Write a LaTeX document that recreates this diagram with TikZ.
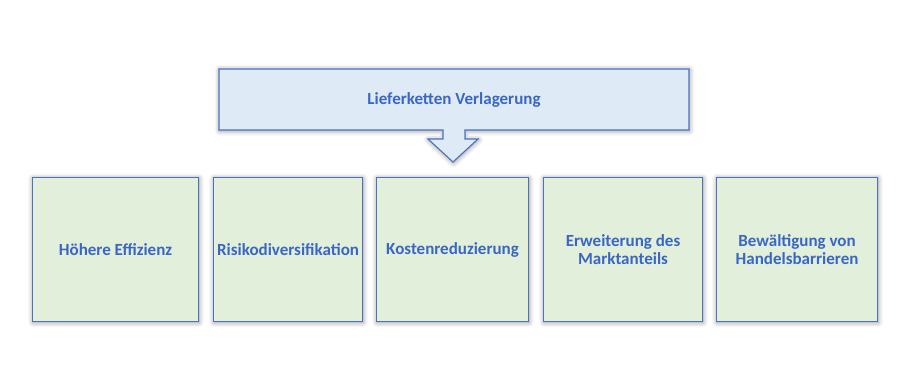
\documentclass[tikz,border=0pt]{standalone}
\usepackage{fontspec}
\setmainfont{Carlito}
\usetikzlibrary{shadows.blur}
\definecolor{txtblue}{HTML}{3A66C4}
\definecolor{edge}{HTML}{4A72C0}
\definecolor{topfill}{HTML}{DEEBF7}
\definecolor{boxfill}{HTML}{E2EFDA}
\tikzset{
  glow/.style={blur shadow={shadow xshift=0.5pt, shadow yshift=-0.8pt, shadow blur radius=5pt, shadow opacity=45}},
  label/.style={text=txtblue, font=\fontsize{17}{18.5}\selectfont\bfseries, align=center},
  card/.style={draw=edge, line width=1.1pt, fill=boxfill, glow, label, inner sep=0pt, anchor=north west}
}
\begin{document}
\begin{tikzpicture}[x=1pt,y=-1pt]
\useasboundingbox (0,0) rectangle (922,386);
% callout
\draw[draw=edge, line width=1.1pt, fill=topfill, glow]
  (219,69) -- (689,69) -- (689,130) -- (465,130) -- (465,139) -- (478,139) -- (453,162)
  -- (428,139) -- (443,139) -- (443,130) -- (219,130) -- cycle;
\node[label] (top) at (454,100) {Lieferketten Verlagerung};
% cards
\node[card, minimum width=166pt, minimum height=144pt] (b1) at (32,177) {Höhere Effizienz};
\node[card, minimum width=149pt, minimum height=144pt] (b2) at (213,177) {Risikodiversifikation};
\node[card, minimum width=152pt, minimum height=144pt] (b3) at (376,177) {Kostenreduzierung};
\node[card, minimum width=159pt, minimum height=144pt] (b4) at (543,177) {Erweiterung des\\Marktanteils};
\node[card, minimum width=161pt, minimum height=144pt] (b5) at (716,177) {Bewältigung von\\Handelsbarrieren};
\end{tikzpicture}
\end{document}
